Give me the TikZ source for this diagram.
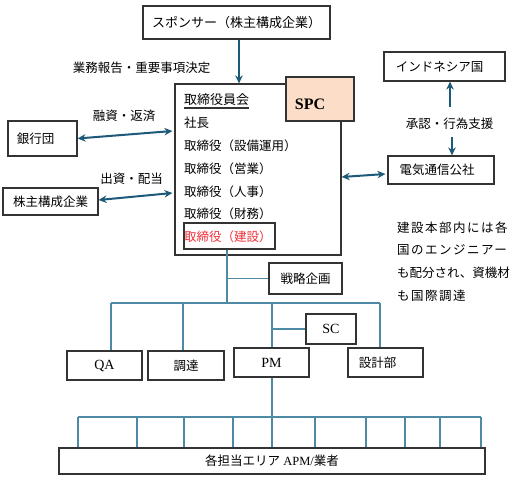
\documentclass[tikz,border=0pt]{standalone}
\usepackage{fontspec}
\setmainfont{Liberation Serif}
\newfontfamily\cjk{Noto Sans CJK JP}
\newfontfamily\cjkwide[LetterSpace=12]{Noto Sans CJK JP}
\usetikzlibrary{arrows.meta,calc}
\definecolor{arrowc}{HTML}{1D5A7A}
\definecolor{treec}{HTML}{4E8AA5}
\definecolor{boxc}{HTML}{333333}
\definecolor{peach}{HTML}{FCDDC7}
\definecolor{redt}{HTML}{F0303A}
\begin{document}
\begin{tikzpicture}[x=1pt,y=-1pt,
  box/.style={draw=boxc,line width=1.2pt,inner sep=0pt,fill=white},
  jp/.style={font=\fontsize{12.5}{15}\cjk\selectfont},
  arr/.style={draw=arrowc,line width=2pt,{Stealth[length=8pt,width=7.5pt]}-{Stealth[length=8pt,width=7.5pt]}},
  uarr/.style={draw=arrowc,line width=2pt,-{Stealth[length=8pt,width=7.5pt]}},
  tree/.style={draw=treec,line width=1.2pt},
  lbl/.style={jp,inner sep=0pt}]
\useasboundingbox (0,0) rectangle (530,480);
\fill[white] (0,0) rectangle (530,480);

% boxes
\node[box,jp,minimum width=187pt,minimum height=33pt,font=\fontsize{13}{15}\cjk\selectfont] (sponsor) at (236.5,22.5) {スポンサー（株主構成企業）};
\node[box,minimum width=166pt,minimum height=171pt] (spc) at (258,169.5) {};
\node[box,fill=peach,minimum width=68pt,minimum height=44pt] (spclbl) at (320,99) {};
\node[inner sep=0pt,font=\fontsize{16}{18}\bfseries\selectfont] (spctext) at (310,104) {SPC};

\node[box,jp,minimum width=69pt,minimum height=35pt] (bank) at (42.5,138.5) {\hspace*{-14pt}銀行団};
\node[box,jp,minimum width=95pt,minimum height=27pt] (holders) at (50.5,201.5) {株主構成企業};
\node[box,jp,minimum width=121pt,minimum height=29pt] (indo) at (444.5,66.5) {\hspace*{-10pt}インドネシア国};
\node[box,jp,minimum width=106pt,minimum height=28pt] (denki) at (441,170) {\hspace*{-8pt}電気通信公社};

% SPC contents
\node[lbl,anchor=west,font=\fontsize{13}{15}\cjk\selectfont] (t0) at (184,100) {取締役員会};
\draw[boxc,line width=1.1pt] (t0.west |- 0,108) -- (t0.east |- 0,108);
\node[lbl,anchor=west] (t1) at (184,123) {社長};
\node[lbl,anchor=west] (t2) at (184,146) {取締役（設備運用）};
\node[lbl,anchor=west] (t3) at (184,169) {取締役（営業）};
\node[lbl,anchor=west] (t4) at (184,192) {取締役（人事）};
\node[lbl,anchor=west] (t5) at (184,214) {取締役（財務）};
\node[draw=boxc,line width=1.2pt,inner sep=0pt,minimum width=91pt,minimum height=26pt] (kensetsu) at (229.5,236) {};
\node[lbl,anchor=west,text=redt] (t6) at (184,237) {取締役（建設）};

% organisation boxes
\node[box,jp,minimum width=73pt,minimum height=31pt] (senryaku) at (305.5,278.5) {戦略企画};
\node[box,minimum width=50pt,minimum height=30pt,font=\fontsize{14}{16}\selectfont] (sc) at (331,329) {SC};
\node[box,minimum width=75pt,minimum height=29pt,font=\fontsize{14}{16}\selectfont] (qa) at (104.5,365.5) {QA};
\node[box,jp,minimum width=76pt,minimum height=29pt] (chotatsu) at (186,365.5) {調達};
\node[box,minimum width=75pt,minimum height=29pt,font=\fontsize{14}{16}\selectfont] (pm) at (271.5,362.5) {PM};
\node[box,jp,minimum width=75pt,minimum height=29pt] (sekkei) at (385.5,362.5) {\hspace*{-16pt}設計部};
\node[box,minimum width=426pt,minimum height=26pt,font=\fontsize{12.5}{15}\selectfont] (bottom) at (272,461) {{\cjk 各担当エリア} APM/{\cjk 業者}};

% labels
\node[lbl] (l1) at (141.5,68) {業務報告・重要事項決定};
\node[lbl] (l2) at (124,116) {融資・返済};
\node[lbl] (l3) at (131.5,179) {出資・配当};
\node[lbl] (l4) at (449.5,124) {承認・行為支援};

% note
\node[inner sep=0pt,anchor=west,font=\fontsize{12.5}{15}\cjkwide\selectfont] (n1) at (397,228) {建設本部内には各};
\node[inner sep=0pt,anchor=west,font=\fontsize{12.5}{15}\cjkwide\selectfont] (n2) at (397,250) {国のエンジニアー};
\node[inner sep=0pt,anchor=west,font=\fontsize{12.5}{15}\cjk\selectfont] (n3) at (397,273) {も配分され、資機材};
\node[inner sep=0pt,anchor=west,font=\fontsize{12.5}{15}\cjkwide\selectfont] (n4) at (397,296) {も国際調達};

% arrows
\coordinate (sp) at (239,0);
\draw[uarr,line width=2.4pt] (sponsor.south -| sp) -- (spc.north -| sp);
\draw[arr] (bank.east) -- ($(spc.west |- 0,131)+(-2,0)$);
\draw[arr] (holders.east |- 0,200) -- ($(spc.west |- 0,193)+(-2,0)$);
\draw[arr] (spc.east |- 0,177) -- ($(denki.west |- 0,174)+(-2,0)$);
\coordinate (ua) at (450,107);
\coordinate (da) at (452,137);
\draw[uarr] (ua) -- (ua |- indo.south);
\draw[uarr] (da) -- (da |- denki.north);

% tree
\coordinate (k) at (227,303);
\draw[tree] (kensetsu.south -| k) -- (k);
\draw[tree] (k |- senryaku.west) -- (senryaku.west);
\coordinate (bl) at (111,303);
\coordinate (br) at (380,303);
\coordinate (bc) at (183,303);
\coordinate (bp) at (272,303);
\draw[tree] (bl) -- (br);
\draw[tree] (bl) -- (bl |- qa.north);
\draw[tree] (bc) -- (bc |- chotatsu.north);
\draw[tree] (bp) -- (bp |- pm.north);
\draw[tree] (br) -- (br |- sekkei.north);
\draw[tree] (bp |- sc.west) -- (sc.west);
\draw[tree] (pm.south -| bp) -- (bottom.north -| bp);
\coordinate (ll) at (78,417);
\coordinate (lr) at (481,417);
\draw[tree] (ll) -- (lr);
\foreach \xx in {78,137,184,233,315,366,405,440,481}{
  \draw[tree] (\xx,417) -- (bottom.north -| \xx,0);
}
\end{tikzpicture}
\end{document}
